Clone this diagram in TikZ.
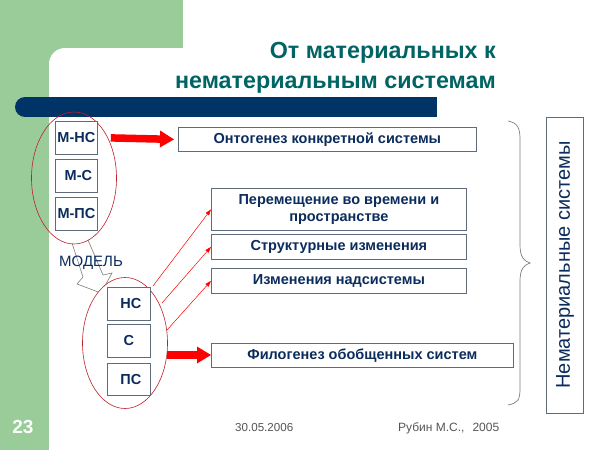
\documentclass[tikz,border=0pt]{standalone}
\usepackage{fontspec}
\setmainfont{Liberation Sans}
\usetikzlibrary{shapes.geometric,arrows.meta}
\definecolor{slgreen}{HTML}{99CC99}
\definecolor{navy}{HTML}{0B2C5C}
\definecolor{barblue}{HTML}{003366}
\definecolor{teal}{HTML}{006464}
\definecolor{boxgray}{HTML}{5F6B78}
\definecolor{ellred}{HTML}{C0202A}
\definecolor{foot}{HTML}{555555}
\tikzset{
  box/.style={draw=boxgray, line width=0.8pt, fill=white, text=navy, inner sep=0pt,
    align=center, anchor=north west, font=\bfseries\fontsize{14.5}{17}\selectfont},
  sbox/.style={box, minimum width=42pt},
  ell/.style={ellipse, draw=ellred, line width=0.6pt, inner sep=0pt},
  bigarrow/.style={red, line width=7.5pt, -{Triangle[length=14pt,width=17pt,line width=0pt]}},
  thinarrow/.style={red, line width=0.5pt, -{Triangle[length=6pt,width=4pt]}},
}
\begin{document}
\begin{tikzpicture}[x=1pt,y=-1pt]
\useasboundingbox (0,0) rectangle (600,450);
% background
\fill[slgreen] (0,0) rectangle (600,450);
\fill[white, rounded corners=16pt] (49,48) rectangle (700,520);
\fill[white] (183,0) rectangle (600,60);
% bar
\fill[barblue] (25,97) rectangle (437,117);
\fill[barblue] (25,107) circle[radius=10];
% title
\node[anchor=base east, text=teal, font=\bfseries\fontsize{23.3}{28}\selectfont, inner sep=0pt] (t1) at (496,58) {От материальных к};
\node[anchor=base east, text=teal, font=\bfseries\fontsize{23.3}{28}\selectfont, inner sep=0pt] (t2) at (496,88) {нематериальным системам};
% hollow arrow
\draw[gray, line width=0.6pt] (72,243) -- (83,277) -- (77,284) -- (101,293) -- (112,273) -- (103,275) -- (88,240);
% ellipses
\node[ell, minimum width=85pt, minimum height=132pt] (e1) at (74,178) {};
\node[ell, fill=white, minimum width=85pt, minimum height=131pt] (e2) at (125,343) {};
% left boxes
\node[sbox, minimum height=33pt] (mns) at (55,121) {М-НС};
\node[sbox, minimum height=33pt] (ms) at (55,159) {\hspace{4pt}М-С};
\node[sbox, minimum height=33pt] (mps) at (55,197) {М-ПС};
\node[sbox, minimum width=43pt, minimum height=33pt] (ns) at (107,287) {\hspace{4pt}НС};
\node[sbox, minimum width=43pt, minimum height=33pt] (s) at (107,324) {С};
\node[sbox, minimum width=43pt, minimum height=32pt] (ps) at (107,363) {\hspace{4pt}ПС};
\node[anchor=west, text=navy, font=\fontsize{15}{17}\selectfont, inner sep=0pt] (model) at (59,263) {МОДЕЛЬ};
% right boxes
\node[box, minimum width=298pt, minimum height=24pt] (onto) at (178,127) {Онтогенез конкретной системы};
\node[box, minimum width=255pt, minimum height=42pt] (perem) at (211,188) {Перемещение во времени и\\пространстве};
\node[box, minimum width=255pt, minimum height=25pt] (struct) at (211,234) {Структурные изменения};
\node[box, minimum width=255pt, minimum height=25pt] (nads) at (211,268) {Изменения надсистемы};
\node[box, minimum width=302pt, minimum height=24pt] (filo) at (211,343) {Филогенез обобщенных систем};
% right vertical box
\node[draw=boxgray, line width=0.8pt, minimum width=37pt, minimum height=296pt, inner sep=0pt] (nemat) at (564.5,265) {};
\node[rotate=90, text=navy, font=\fontsize{20}{22}\selectfont, inner sep=0pt] (nemtxt) at (565,265) {Нематериальные системы};
% brace
\draw[gray, line width=0.7pt] (508,121) .. controls (518,123) and (520,128) .. (520,140) -- (520,245) .. controls (520,257) and (524,261) .. (530,263) .. controls (524,265) and (520,269) .. (520,281) -- (520,388) .. controls (520,400) and (518,403) .. (508,405);
% big arrows
\draw[bigarrow] ([xshift=13pt]mns.east) -- ([xshift=-4pt]onto.west);
\coordinate (e2r) at (167,355);
\draw[bigarrow] (e2r) -- (filo.west |- e2r);
% thin arrows
\coordinate (p1) at (153,286);
\coordinate (p2) at (162,303);
\coordinate (p3) at (167,330);
\draw[thinarrow] (p1) -- (perem.west);
\draw[thinarrow] (p2) -- (struct.west);
\draw[thinarrow] (p3) -- (nads.west);
% footer
\node[text=white, font=\bfseries\fontsize{19}{21}\selectfont, inner sep=0pt] (num) at (23,427) {23};
\node[text=foot, font=\fontsize{11.6}{13}\selectfont, inner sep=0pt, anchor=west] (date) at (235,428) {30.05.2006};
\node[text=foot, font=\fontsize{12}{14}\selectfont, inner sep=0pt, anchor=west] (auth) at (398,428) {Рубин М.С.,\hspace{8pt}2005};
\end{tikzpicture}
\end{document}
